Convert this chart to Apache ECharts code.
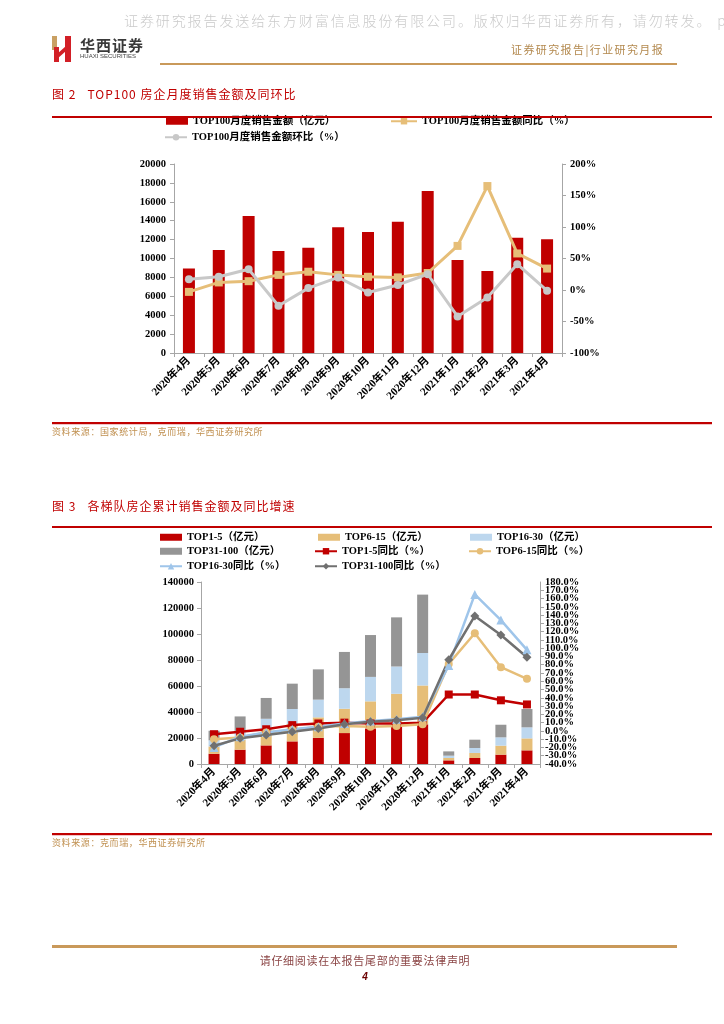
<!DOCTYPE html>
<html>
<head>
<meta charset="utf-8">
<script src="https://cdn.jsdelivr.net/npm/echarts@6/dist/echarts.min.js"></script>
<style>
  html,body{margin:0;padding:0;background:#fff;}
  body{width:724px;height:1024px;overflow:hidden;position:relative;font-family:'Noto Sans CJK SC',sans-serif;}
  #chart{position:absolute;left:0;top:0;width:724px;height:1024px;z-index:1;}
  .t{position:absolute;white-space:nowrap;z-index:2;}
  .ln{position:absolute;z-index:2;}
</style>
</head>
<body>
<div id="chart"></div>

<!-- page decoration -->
<div class="t" style="left:124px;top:11px;font-size:14px;line-height:18px;color:#cacaca;letter-spacing:1.9px;font-weight:300;">证券研究报告发送给东方财富信息股份有限公司。版权归华西证券所有，请勿转发。 p</div>
<svg class="ln" style="left:50px;top:34px;" width="24" height="30" viewBox="0 0 24 30">
  <rect x="2" y="2" width="5" height="14" fill="#c9a063"/>
  <rect x="4" y="13" width="5" height="15" fill="#d21f26"/>
  <polygon points="7,20 16,12 16,17 7,25" fill="#d21f26"/>
  <rect x="15" y="2" width="6" height="26" fill="#d21f26"/>
</svg>
<div class="t" style="left:80px;top:37px;font-size:15px;line-height:16px;color:#3a3a3a;font-weight:bold;font-family:'Noto Sans CJK SC';letter-spacing:1px;">华西证券</div>
<div class="t" style="left:80px;top:53px;font-size:6px;line-height:7px;color:#444;font-family:'Liberation Sans';">HUAXI SECURITIES</div>
<div class="t" style="left:511px;top:42px;font-size:11px;line-height:14px;color:#b3894e;letter-spacing:1.4px;">证券研究报告|行业研究月报</div>
<div class="ln" style="left:160px;top:63px;width:517px;height:2px;background:#c9995a;"></div>

<div class="t" style="left:52px;top:86px;font-size:12px;line-height:16px;color:#c00000;letter-spacing:1px;">图 2&nbsp;&nbsp;&nbsp;TOP100 房企月度销售金额及同环比</div>
<div class="ln" style="left:52px;top:116px;width:660px;height:2px;background:#c00000;"></div>

<div class="ln" style="left:52px;top:422px;width:660px;height:2px;background:#c00000;"></div>
<div class="ln" style="left:52px;top:424px;width:660px;height:1px;background:#f2c4c4;"></div>
<div class="t" style="left:52px;top:426px;font-size:9px;line-height:12px;color:#c09050;letter-spacing:0.6px;">资料来源：国家统计局，克而瑞，华西证券研究所</div>

<div class="t" style="left:52px;top:498px;font-size:12px;line-height:16px;color:#c00000;letter-spacing:1px;">图 3&nbsp;&nbsp;&nbsp;各梯队房企累计销售金额及同比增速</div>
<div class="ln" style="left:52px;top:526px;width:660px;height:2px;background:#c00000;"></div>

<div class="ln" style="left:52px;top:833px;width:660px;height:2px;background:#c00000;"></div>
<div class="ln" style="left:52px;top:835px;width:660px;height:1px;background:#f2c4c4;"></div>
<div class="t" style="left:52px;top:837px;font-size:9px;line-height:12px;color:#c09050;letter-spacing:0.6px;">资料来源：克而瑞，华西证券研究所</div>

<div class="ln" style="left:52px;top:945px;width:625px;height:3px;background:#c9995a;"></div>
<div class="t" style="left:0;width:730px;text-align:center;top:953px;font-size:11px;line-height:14px;color:#8b4545;letter-spacing:0.7px;">请仔细阅读在本报告尾部的重要法律声明</div>
<div class="t" style="left:0;width:730px;text-align:center;top:971px;font-size:10px;line-height:12px;color:#6b0000;font-weight:bold;font-style:italic;font-family:'Liberation Sans';">4</div>

<script>
// ---------- data ----------
var categories = ['2020年4月','2020年5月','2020年6月','2020年7月','2020年8月','2020年9月','2020年10月','2020年11月','2020年12月','2021年1月','2021年2月','2021年3月','2021年4月'];

// Figure 2
var top100Sales = [8950, 10900, 14500, 10800, 11150, 13300, 12800, 13900, 17150, 9840, 8680, 12200, 12030];
var top100YoY   = [-3, 12, 14, 24, 29, 24, 21, 20, 27, 70, 165, 58, 34];
var top100MoM   = [17, 21, 33, -25, 3, 20, -4, 8, 25, -42, -12, 41, -1];
var fig2LeftTicks  = {min: 0, max: 20000, interval: 2000};
var fig2RightTicks = {min: -100, max: 200, interval: 50};

// Figure 3 (cumulative, 亿元)
var top1_5    = [7900, 11000, 14300, 17400, 20100, 23800, 27300, 28500, 30500, 2800, 4600, 7200, 10500];
var top6_15   = [5600, 7500, 12100, 13400, 15800, 18700, 20900, 25500, 29900, 1800, 3900, 6900, 9200];
var top16_30  = [4700, 7000, 8400, 11500, 13600, 15800, 18800, 21000, 25000, 1800, 3800, 6400, 8500];
var top31_100 = [7400, 11100, 16000, 19500, 23300, 27900, 32200, 37800, 44900, 3300, 6400, 9700, 14100];
var yoy1_5    = [-4, -1, 2, 7, 9, 10, 9, 9, 10, 44, 44, 37, 32];
var yoy6_15   = [-10, -8, -2, 1, 5, 6, 5, 6, 8, 81, 118, 77, 63];
var yoy16_30  = [-20, -7, -2, 2, 5, 9, 12, 14, 17, 79, 165, 134, 98];
var yoy31_100 = [-18, -9, -5, -1, 3, 8, 11, 13, 16, 86, 139, 116, 89];
var fig3LeftTicks  = {min: 0, max: 140000, interval: 20000};
var fig3RightTicks = {min: -40, max: 180, interval: 10};

// ---------- styles ----------
var FONT = "'Liberation Serif','Noto Sans CJK SC',serif";
var AX = '#a6a6a6';
var RED = '#c00000', GOLD = '#e6be78', LBLUE = '#bdd7ee', LBLUE_L = '#9fc5ea', GRAY = '#959595', DGRAY = '#707070', LGRAY = '#c8c8c8';

function xAxis(g){
  return {gridIndex:g, type:'category', data:categories, boundaryGap:true,
    axisLine:{show:true, lineStyle:{color:AX, width:1}},
    axisTick:{show:true, length:4, lineStyle:{color:AX}},
    axisLabel:{interval:0, rotate:45, fontSize:11, fontWeight:'bold', color:'#000', fontFamily:FONT, margin:6},
    splitLine:{show:false}};
}
function yAxis(g, pos, t, fmt, margin, showEnds){
  var se = (showEnds === undefined) ? true : showEnds;
  return {gridIndex:g, type:'value', position:pos, min:t.min, max:t.max, interval:t.interval,
    axisLine:{show:true, lineStyle:{color:AX}},
    axisTick:{show:true, length:4, lineStyle:{color:AX}},
    splitLine:{show:false},
    axisLabel:{fontSize:10.5, fontWeight:'bold', color:'#000', fontFamily:FONT, margin:margin, formatter:fmt,
      showMinLabel:se, showMaxLabel:se, hideOverlap:false}};
}
function leg(name, left, top, w, h, isBar){
  var o = {data:[name], left:left, top:top, padding:0, itemWidth:w, itemHeight:h, itemGap:0,
    textStyle:{fontSize:10.5, fontWeight:'bold', color:'#000', fontFamily:FONT}, selectedMode:false};
  if (isBar) o.data = [{name:name, icon:'rect'}];
  return o;
}
var plain = function(v){ return String(v); };
var pct1 = function(v){ return v.toFixed(1)+'%'; };

// end-label axis for figure 3 right side (only min and max ticks)
var fig3RightEnds = {min: fig3RightTicks.min, max: fig3RightTicks.max, interval: fig3RightTicks.max - fig3RightTicks.min};
var endAxis = yAxis(1,'right', fig3RightEnds, pct1, 5, true);
endAxis.axisLine = {show:false}; endAxis.axisTick = {show:false};

var option = {
  animation:false,
  backgroundColor:'transparent',
  grid:[
    {left:174, top:164, width:388, height:189},
    {left:201, top:582, width:339, height:182}
  ],
  legend:[
    leg('TOP100月度销售金额（亿元）', 166, 116, 22, 7, true),
    leg('TOP100月度销售金额同比（%）', 390, 116, 26, 8, false),
    leg('TOP100月度销售金额环比（%）', 164, 132, 22, 8, false),

    leg('TOP1-5（亿元）', 160, 532, 22, 7, true),
    leg('TOP6-15（亿元）', 318, 532, 22, 7, true),
    leg('TOP16-30（亿元）', 470, 532, 22, 7, true),
    leg('TOP31-100（亿元）', 160, 546, 22, 7, true),
    leg('TOP1-5同比（%）', 314, 546, 22, 8, false),
    leg('TOP6-15同比（%）', 468, 546, 22, 8, false),
    leg('TOP16-30同比（%）', 159, 561, 22, 8, false),
    leg('TOP31-100同比（%）', 314, 561, 22, 8, false)
  ],
  xAxis:[xAxis(0), xAxis(1)],
  yAxis:[
    yAxis(0,'left', fig2LeftTicks, plain, 8),
    yAxis(0,'right', fig2RightTicks, function(v){return v+'%';}, 8),
    yAxis(1,'left', fig3LeftTicks, plain, 7),
    yAxis(1,'right', fig3RightTicks, pct1, 5, false),
    endAxis
  ],
  series:[
    {name:'TOP100月度销售金额（亿元）', type:'bar', xAxisIndex:0, yAxisIndex:0, data:top100Sales, barWidth:12, itemStyle:{color:RED}},
    {name:'TOP100月度销售金额同比（%）', type:'line', xAxisIndex:0, yAxisIndex:1, data:top100YoY,
      symbol:'rect', symbolSize:8, lineStyle:{color:GOLD, width:3}, itemStyle:{color:GOLD}},
    {name:'TOP100月度销售金额环比（%）', type:'line', xAxisIndex:0, yAxisIndex:1, data:top100MoM,
      symbol:'circle', symbolSize:8, lineStyle:{color:LGRAY, width:3}, itemStyle:{color:LGRAY}},

    {name:'TOP1-5（亿元）', type:'bar', stack:'c', xAxisIndex:1, yAxisIndex:2, data:top1_5, barWidth:11, itemStyle:{color:RED}},
    {name:'TOP6-15（亿元）', type:'bar', stack:'c', xAxisIndex:1, yAxisIndex:2, data:top6_15, barWidth:11, itemStyle:{color:GOLD}},
    {name:'TOP16-30（亿元）', type:'bar', stack:'c', xAxisIndex:1, yAxisIndex:2, data:top16_30, barWidth:11, itemStyle:{color:LBLUE}},
    {name:'TOP31-100（亿元）', type:'bar', stack:'c', xAxisIndex:1, yAxisIndex:2, data:top31_100, barWidth:11, itemStyle:{color:GRAY}},
    {name:'TOP1-5同比（%）', type:'line', xAxisIndex:1, yAxisIndex:3, data:yoy1_5,
      symbol:'rect', symbolSize:8, lineStyle:{color:RED, width:2.5}, itemStyle:{color:RED}},
    {name:'TOP6-15同比（%）', type:'line', xAxisIndex:1, yAxisIndex:3, data:yoy6_15,
      symbol:'circle', symbolSize:8, lineStyle:{color:GOLD, width:2.5}, itemStyle:{color:GOLD}},
    {name:'TOP16-30同比（%）', type:'line', xAxisIndex:1, yAxisIndex:3, data:yoy16_30,
      symbol:'triangle', symbolSize:9, lineStyle:{color:LBLUE_L, width:2.5}, itemStyle:{color:LBLUE_L}},
    {name:'TOP31-100同比（%）', type:'line', xAxisIndex:1, yAxisIndex:3, data:yoy31_100,
      symbol:'diamond', symbolSize:9, lineStyle:{color:DGRAY, width:2.5}, itemStyle:{color:DGRAY}}
  ]
};

var chart = echarts.init(document.getElementById('chart'), null, {renderer:'canvas', width:724, height:1024});
chart.setOption(option);
</script>
</body>
</html>
